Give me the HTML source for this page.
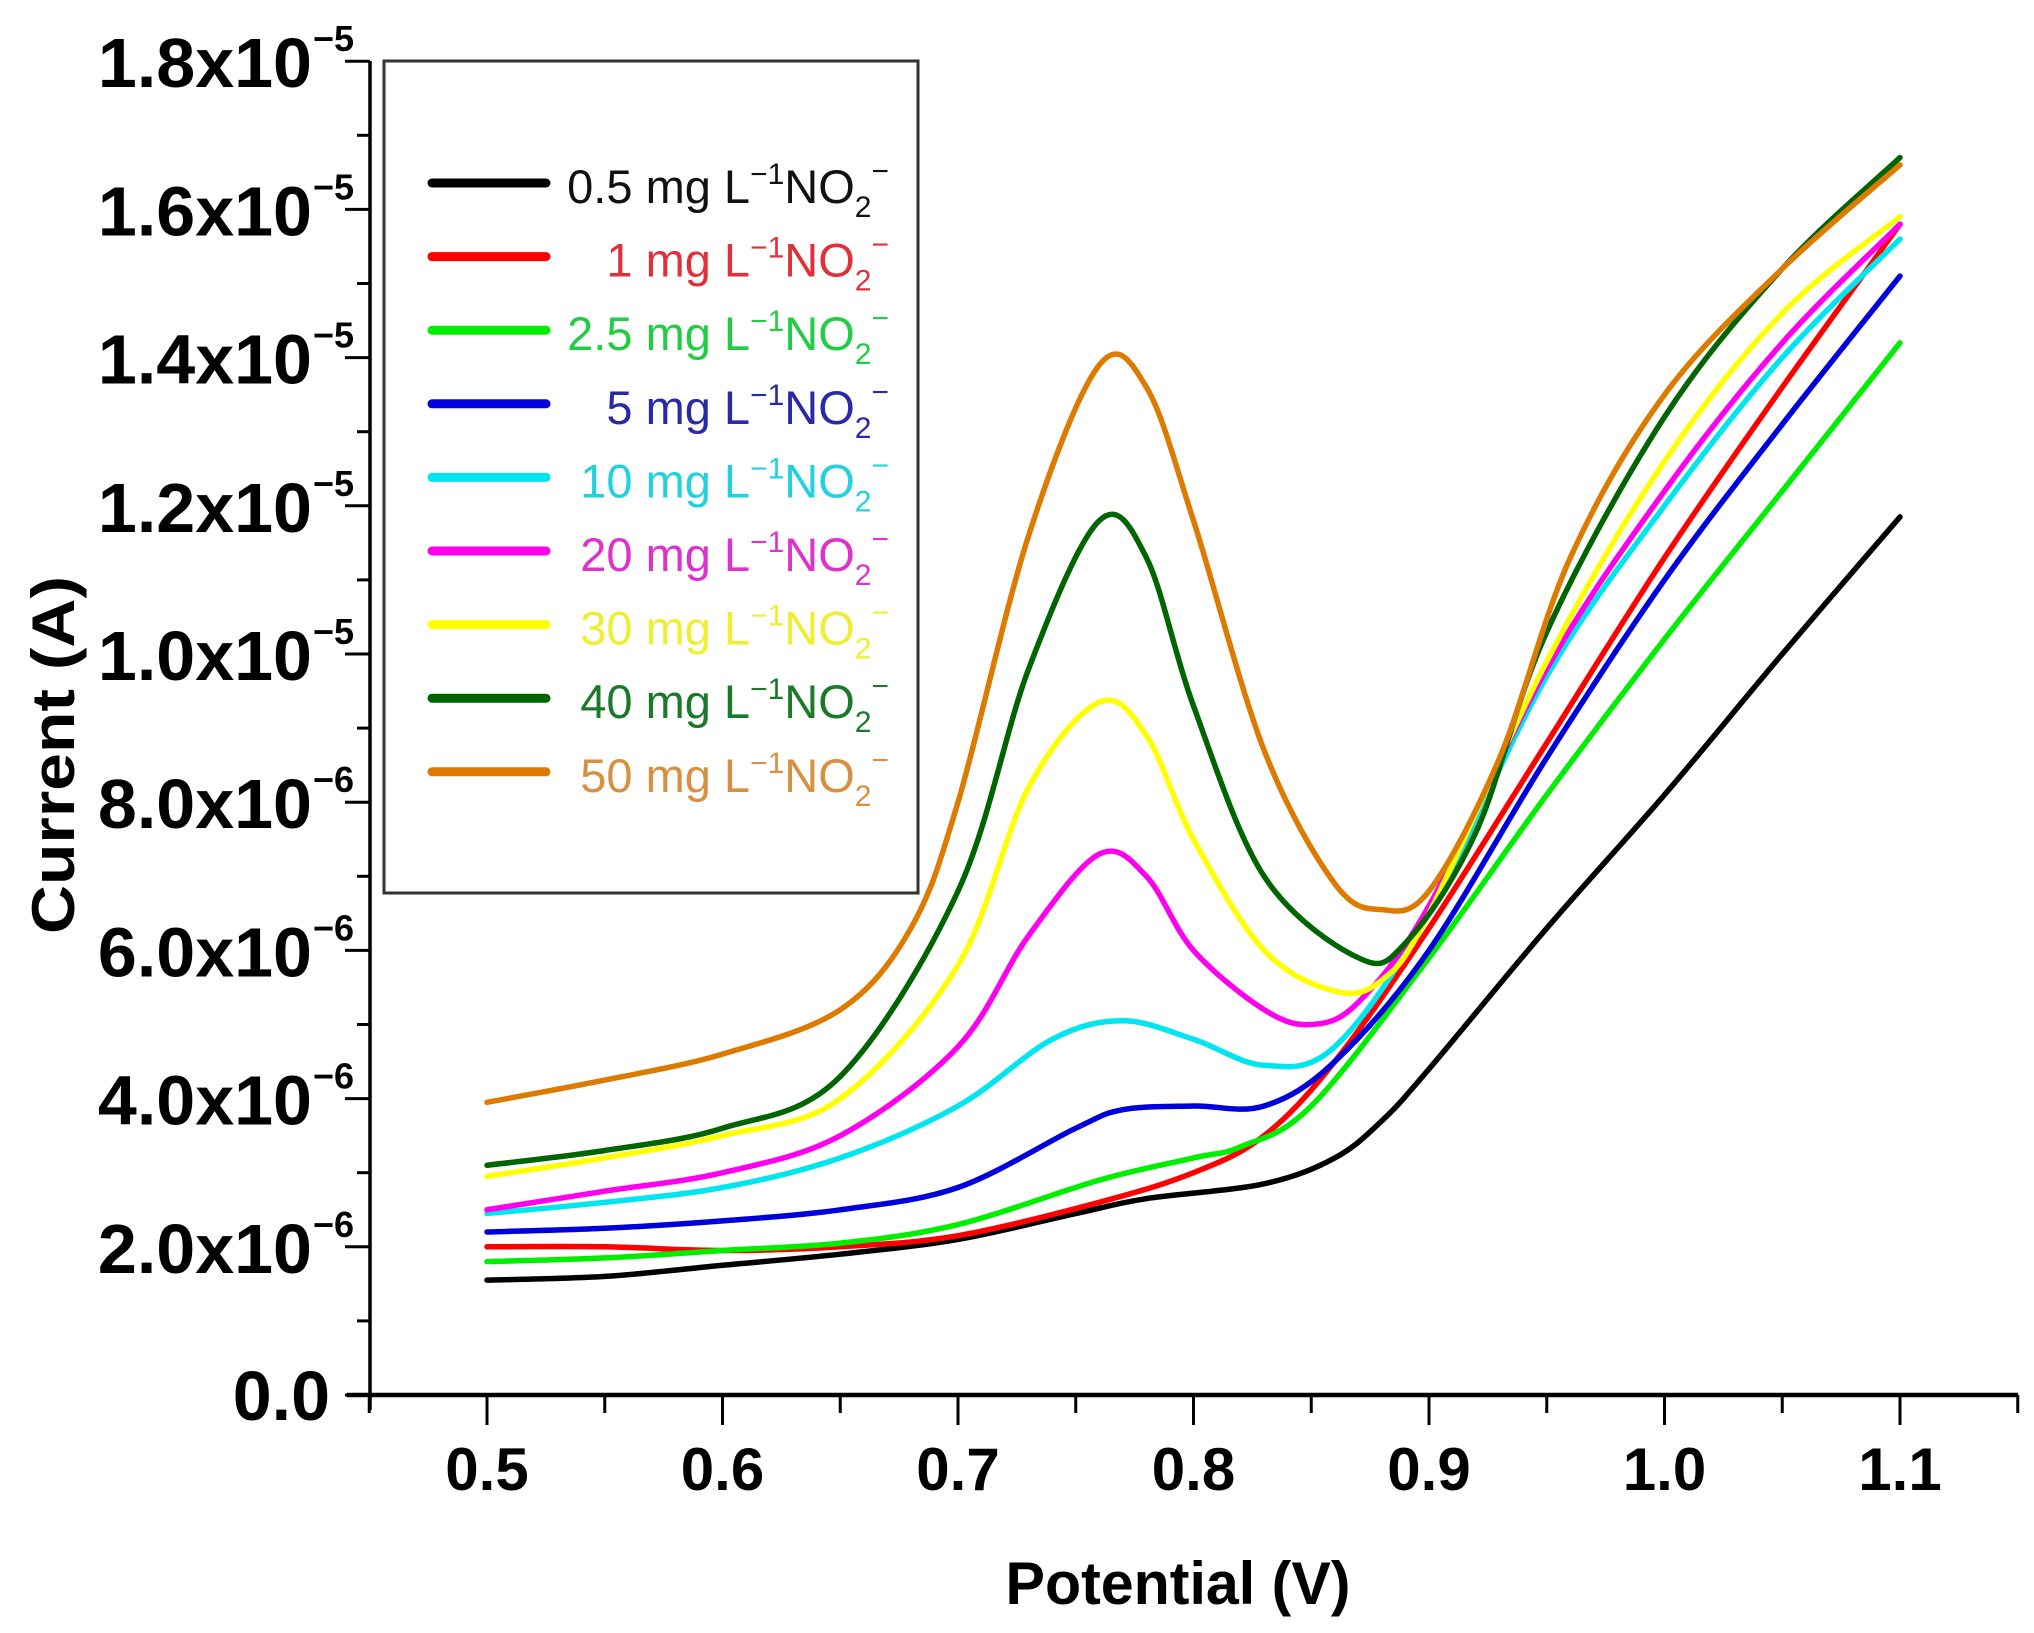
<!DOCTYPE html>
<html><head><meta charset="utf-8"><style>
html,body{margin:0;padding:0;background:#fff;}
svg{display:block;font-family:"Liberation Sans",Arial,sans-serif;}
</style></head><body>
<svg id="s" width="2034" height="1633" viewBox="0 0 2034 1633" xmlns="http://www.w3.org/2000/svg">
<rect width="2034" height="1633" fill="#fff"/>
<g id="curves" fill="none" stroke-width="5.5" stroke-linejoin="round" stroke-linecap="round"></g>
<line x1="370" y1="61" x2="370" y2="1410" stroke="#000" stroke-width="3.5"/>
<line x1="347" y1="1395" x2="2018" y2="1395" stroke="#000" stroke-width="4.5"/>
<g id="ticks" stroke="#000" stroke-width="3"></g>
<g id="ylab" font-weight="bold" fill="#000"></g>
<g id="xlab" font-weight="bold" font-size="60" text-anchor="middle" fill="#000"></g>
<text x="1178" y="1604" font-size="60" font-weight="bold" text-anchor="middle" textLength="345" lengthAdjust="spacingAndGlyphs">Potential (V)</text>
<text transform="translate(74,755) rotate(-90)" font-size="60" font-weight="bold" text-anchor="middle" textLength="358" lengthAdjust="spacingAndGlyphs">Current (A)</text>
<rect x="384" y="61" width="534" height="832" fill="#fff" stroke="#333" stroke-width="3"/>
<g id="legend"></g>
</svg>
<script>
var NS="http://www.w3.org/2000/svg";
function X(v){return 487+(v-0.5)*2355;}
function Y(i){return 1395-74.1*i;}
function el(t,a,p,txt){var e=document.createElementNS(NS,t);for(var k in a)e.setAttribute(k,a[k]);if(txt!==undefined)e.textContent=txt;p.appendChild(e);return e;}
var data=[
["#000000","#111111","0.5",[[0.5,1.55],[0.55,1.6],[0.6,1.75],[0.65,1.9],[0.7,2.1],[0.75,2.45],[0.78,2.65],[0.83,2.85],[0.86,3.2],[0.88,3.7],[0.9,4.4],[0.95,6.3],[1.0,8.1],[1.05,10.0],[1.1,11.85]]],
["#ff0000","#e0303a","1",[[0.5,2.0],[0.55,2.0],[0.6,1.95],[0.65,2.0],[0.7,2.15],[0.76,2.6],[0.8,3.0],[0.83,3.5],[0.86,4.5],[0.9,6.3],[0.95,8.8],[1.0,11.3],[1.05,13.6],[1.1,15.8]]],
["#00ee00","#22cc44","2.5",[[0.5,1.8],[0.55,1.85],[0.6,1.95],[0.65,2.05],[0.7,2.3],[0.76,2.9],[0.8,3.2],[0.82,3.35],[0.85,3.9],[0.9,5.9],[0.95,8.1],[1.0,10.2],[1.05,12.2],[1.1,14.2]]],
["#0000dd","#2a2aa8","5",[[0.5,2.2],[0.55,2.25],[0.6,2.35],[0.65,2.5],[0.7,2.8],[0.75,3.6],[0.77,3.85],[0.8,3.9],[0.83,3.9],[0.86,4.5],[0.9,6.0],[0.95,8.6],[1.0,11.0],[1.05,13.1],[1.1,15.1]]],
["#00e5ee","#22d0e0","10",[[0.5,2.45],[0.55,2.6],[0.6,2.8],[0.65,3.2],[0.7,3.9],[0.74,4.8],[0.77,5.05],[0.8,4.8],[0.83,4.45],[0.86,4.7],[0.9,6.5],[0.95,9.7],[1.0,12.0],[1.05,14.0],[1.1,15.6]]],
["#ff00ee","#dd33cc","20",[[0.5,2.5],[0.55,2.75],[0.6,3.0],[0.65,3.5],[0.7,4.7],[0.73,6.2],[0.76,7.3],[0.78,7.0],[0.8,6.0],[0.83,5.2],[0.85,5.0],[0.87,5.3],[0.9,6.6],[0.95,9.8],[1.0,12.2],[1.05,14.2],[1.1,15.8]]],
["#ffff00","#eeee33","30",[[0.5,2.95],[0.55,3.2],[0.6,3.5],[0.65,4.0],[0.7,5.8],[0.73,8.2],[0.76,9.35],[0.78,8.9],[0.8,7.5],[0.83,6.0],[0.86,5.45],[0.88,5.6],[0.9,6.5],[0.95,9.9],[1.0,12.6],[1.05,14.6],[1.1,15.9]]],
["#006400","#1a7a2a","40",[[0.5,3.1],[0.55,3.3],[0.6,3.6],[0.65,4.3],[0.7,6.8],[0.73,9.8],[0.76,11.8],[0.78,11.3],[0.8,9.3],[0.83,7.0],[0.87,5.9],[0.89,6.1],[0.92,7.6],[0.95,10.3],[1.0,13.2],[1.05,15.2],[1.1,16.7]]],
["#dd7a00","#d89040","50",[[0.5,3.95],[0.55,4.25],[0.6,4.6],[0.65,5.2],[0.68,6.3],[0.7,8.0],[0.73,11.6],[0.76,13.9],[0.78,13.6],[0.8,11.8],[0.83,8.7],[0.86,6.9],[0.88,6.55],[0.9,6.8],[0.93,8.6],[0.96,11.3],[1.0,13.5],[1.05,15.2],[1.1,16.6]]]
];
function path(pts){
  var p=pts.map(function(d){return [X(d[0]),Y(d[1])];});
  var s="M"+p[0][0]+","+p[0][1];
  for(var i=0;i<p.length-1;i++){
    var p0=p[i>0?i-1:0],p1=p[i],p2=p[i+1],p3=p[i+2<p.length?i+2:i+1];
    var c1=[p1[0]+(p2[0]-p0[0])/6,p1[1]+(p2[1]-p0[1])/6];
    var c2=[p2[0]-(p3[0]-p1[0])/6,p2[1]-(p3[1]-p1[1])/6];
    s+=" C"+c1[0].toFixed(1)+","+c1[1].toFixed(1)+" "+c2[0].toFixed(1)+","+c2[1].toFixed(1)+" "+p2[0].toFixed(1)+","+p2[1].toFixed(1);
  }
  return s;
}
var cg=document.getElementById("curves");
data.forEach(function(d){el("path",{d:path(d[3]),stroke:d[0]},cg);});
var tg=document.getElementById("ticks");
for(var k=0;k<=18;k++){var y=Y(k);el("line",{x1:(k%2==0?345:357),y1:y,x2:370,y2:y},tg);}
for(var v=0;v<=14;v++){var x=X(0.45+v*0.05);el("line",{x1:x,y1:1395,x2:x,y2:(v%2==1?1425:1413)},tg);}
var yl=document.getElementById("ylab");
var labs=[["0.0",null],["2.0","6"],["4.0","6"],["6.0","6"],["8.0","6"],["1.0","5"],["1.2","5"],["1.4","5"],["1.6","5"],["1.8","5"]];
labs.forEach(function(l,i){
  var y=Y(2*i);
  if(l[1]===null){el("text",{x:330,y:y+25,"font-size":70,"text-anchor":"end"},yl,"0.0");}
  else{
    el("text",{x:312,y:y+26,"font-size":70,"text-anchor":"end"},yl,l[0]+"x10");
    el("text",{x:313,y:y-10,"font-size":36},yl,"\u2212"+l[1]);
  }
});
var xl=document.getElementById("xlab");
["0.5","0.6","0.7","0.8","0.9","1.0","1.1"].forEach(function(t,i){el("text",{x:X(0.5+0.1*i),y:1490},xl,t);});
var lg=document.getElementById("legend");
data.forEach(function(d,i){
  var y=183+i*73.6;
  el("line",{x1:432,y1:y,x2:546,y2:y,stroke:d[0],"stroke-width":9,"stroke-linecap":"round"},lg);
  var t=el("text",{x:889,y:y+20,"font-size":47,fill:d[1],"text-anchor":"end"},lg);
  el("tspan",{},t,d[2]+" mg L");
  el("tspan",{dy:-19,"font-size":30},t,"\u2212"+"1");
  el("tspan",{dy:19},t,"NO");
  el("tspan",{dy:14,"font-size":30},t,"2");
  el("tspan",{dy:-36,"font-size":30},t,"\u2212");
});
</script>
</body></html>
